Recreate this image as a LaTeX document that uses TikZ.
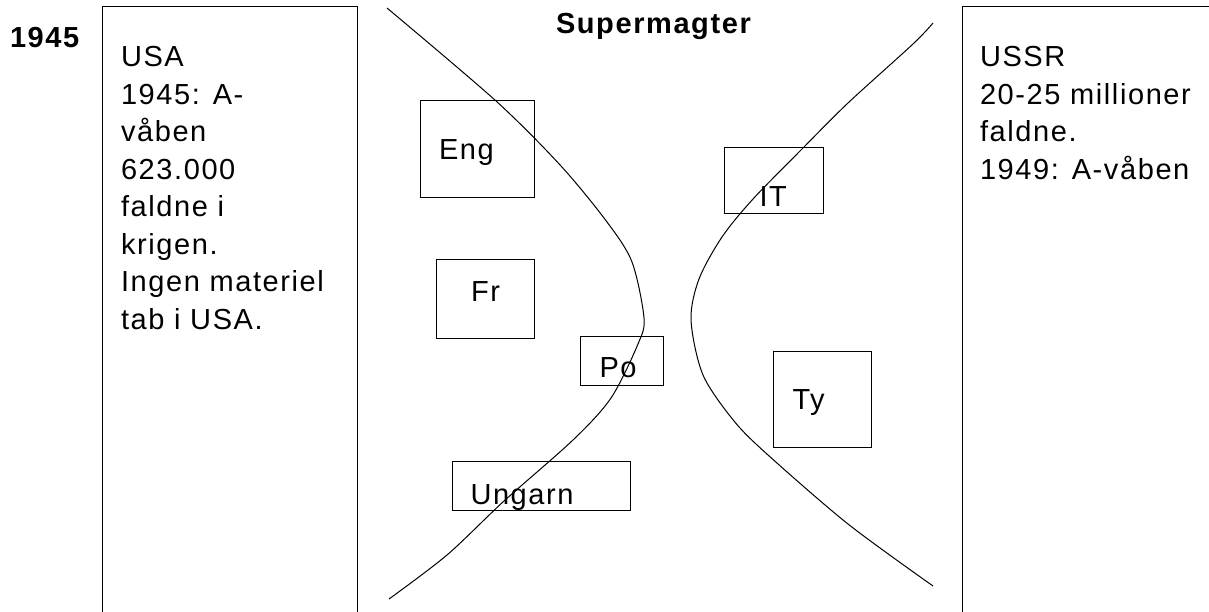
\documentclass[tikz,border=0pt]{standalone}
\usepackage{fontspec}
\setmainfont{Liberation Sans}[LetterSpace=5.5]
\begin{document}
\begin{tikzpicture}[x=1pt,y=-1pt,line width=1pt,
  txt/.style={inner sep=0pt,outer sep=0pt,anchor=base west,font=\fontsize{29}{37.5}\selectfont},
  btxt/.style={txt,font=\fontsize{29}{37.5}\selectfont\bfseries},
  para/.style={inner sep=0pt,outer sep=0pt,anchor=north west,align=left,font=\fontsize{29}{37.5}\selectfont},
  cbox/.style={draw,inner sep=0pt,outer sep=0pt}]
\useasboundingbox (0,0) rectangle (1209,612);
\fill[white] (0,0) rectangle (1209,612);
% big side boxes (open at bottom / right)
\draw (102,612) -- (102,7) -- (357,7) -- (357,612);
\draw (962,612) -- (962,7) -- (1209,7);
% headings
\node[btxt] (year) at (10,48) {1945};
\node[btxt] (title) at (556,34) {Supermagter};
% side texts
\node[para] (usa) at (121,46.5) {USA\\1945: A-\\våben\\623.000\\faldne i\\krigen.\\Ingen materiel\\tab i USA.};
\node[para] (ussr) at (980,46.5) {USSR\\20-25 millioner\\faldne.\\1949: A-våben};
% curves
\draw plot[smooth] coordinates {(387,8) (496,101) (561,166) (607,222) (632,262) (644,318) (638,344) (611,398) (573,440) (504,501) (447,555) (389,599)};
\draw plot[smooth] coordinates {(933,23) (913,44) (848,103) (802,149) (753,199) (722,237) (699,279) (691,320) (703,375) (734,421) (768,455) (848,524) (933,586)};
% country boxes
\node[cbox,minimum width=114pt,minimum height=97pt] (engbox) at (477,149.5) {};
\node[cbox,minimum width=98pt,minimum height=79pt] (frbox) at (485,298.5) {};
\node[cbox,minimum width=83pt,minimum height=49pt] (pobox) at (621.5,360.5) {};
\node[cbox,minimum width=178pt,minimum height=49pt] (ungbox) at (541,485.5) {};
\node[cbox,minimum width=99pt,minimum height=66pt] (itbox) at (773.5,181) {};
\node[cbox,minimum width=98pt,minimum height=96pt] (tybox) at (822,399) {};
% country labels
\node[txt] (eng) at (439,160) {Eng};
\node[txt] (fr) at (471,301) {Fr};
\node[txt] (po) at (599.5,377) {Po};
\node[txt] (ung) at (470.5,504) {Ungarn};
\node[txt] (it) at (759.5,207) {IT};
\node[txt] (ty) at (792.5,409) {Ty};
\end{tikzpicture}
\end{document}
